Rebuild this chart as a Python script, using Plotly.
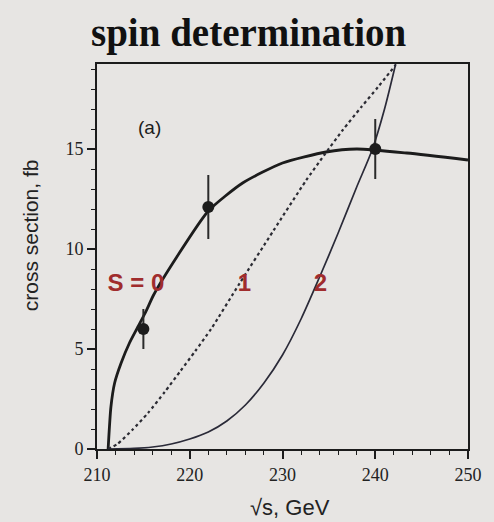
import plotly.graph_objects as go

# Centre-of-mass energy (GeV) and cross sections (fb) for each spin hypothesis
s0_energy = [211.2, 211.5, 211.9, 212.6, 213.5, 214.4, 215.3, 216.1, 218.6, 222.0, 225.7, 230.0, 234.7, 238.0, 243.4, 250.0]
s0_xsec = [0.0, 2.1, 3.3, 4.3, 5.3, 6.1, 6.9, 7.7, 9.6, 11.9, 13.3, 14.3, 14.85, 15.0, 14.8, 14.45]

s1_energy = [211.2, 212.2, 213.8, 215.5, 217.3, 219.0, 220.6, 222.3, 225.4, 229.0, 232.5, 234.5, 236.5, 238.5, 240.3, 242.2]
s1_xsec = [0.0, 0.25, 0.95, 1.8, 2.85, 3.9, 4.9, 6.0, 8.3, 10.9, 13.4, 14.7, 15.95, 17.1, 18.1, 19.2]

s2_energy = [211.2, 214.0, 216.0, 218.0, 220.0, 222.0, 224.0, 226.0, 228.0, 230.0, 232.0, 234.0, 236.0, 238.0, 239.7, 241.0, 242.2]
s2_xsec = [0.0, 0.03, 0.1, 0.25, 0.5, 0.85, 1.4, 2.2, 3.3, 4.7, 6.5, 8.6, 10.8, 13.1, 15.0, 17.0, 19.25]

# Simulated measurements with errors
meas_energy = [215, 222, 240]
meas_xsec = [6.0, 12.1, 15.0]
meas_err = [1.0, 1.6, 1.5]

# Curve labels
label_text = ["S\u00a0=\u00a00", "1", "2"]
label_energy = [214.2, 225.9, 234.1]
label_xsec = [8.2, 8.2, 8.2]

ink = "#1c1c1c"
label_red = "#a02c2d"
bg = "#e7e5e3"
sans = "Liberation Sans, Arial, sans-serif"
serif = "Liberation Serif, Times New Roman, serif"

fig = go.Figure()

fig.add_trace(go.Scatter(x=s0_energy, y=s0_xsec, mode="lines",
                         line=dict(color=ink, width=2.8, shape="spline", smoothing=0.6),
                         showlegend=False, hoverinfo="skip"))
fig.add_trace(go.Scatter(x=s1_energy, y=s1_xsec, mode="lines",
                         line=dict(color="#2b2b33", width=2.2, dash="dot", shape="spline", smoothing=0.6),
                         showlegend=False, hoverinfo="skip"))
fig.add_trace(go.Scatter(x=s2_energy, y=s2_xsec, mode="lines",
                         line=dict(color="#2a2a38", width=1.7, shape="spline", smoothing=0.8),
                         showlegend=False, hoverinfo="skip"))

fig.add_trace(go.Scatter(x=meas_energy, y=meas_xsec, mode="markers",
                         marker=dict(color=ink, size=12),
                         error_y=dict(type="data", array=meas_err, color="#2a2a2a", thickness=2, width=0),
                         showlegend=False))

fig.add_trace(go.Scatter(x=label_energy, y=label_xsec, mode="text", text=label_text,
                         textfont=dict(family=sans, size=24, color=label_red, weight="bold"),
                         textposition="middle center", showlegend=False, hoverinfo="skip"))

fig.add_annotation(x=215.7, y=16.1, xref="x", yref="y", text="(a)", showarrow=False,
                   font=dict(family=sans, size=19, color=ink))

# Title and axis titles placed in paper coordinates
fig.add_annotation(x=0.41, y=1.08, xref="paper", yref="paper", xanchor="center", yanchor="middle",
                   text="<b>spin determination</b>", showarrow=False,
                   font=dict(family=serif, size=39, color="#111111"))
fig.add_annotation(x=-0.177, y=0.556, xref="paper", yref="paper", xanchor="center", yanchor="middle",
                   textangle=-90, text="cross section, fb", showarrow=False,
                   font=dict(family=sans, size=21, color="#222222"))
fig.add_annotation(x=0.519, y=-0.153, xref="paper", yref="paper", xanchor="center", yanchor="middle",
                   text="√s, GeV", showarrow=False,
                   font=dict(family=sans, size=22, color="#222222"))

axis_common = dict(showline=True, linecolor=ink, linewidth=2, mirror=True,
                   showgrid=False, zeroline=False, ticks="outside", tickcolor=ink,
                   tickwidth=1.5, ticklen=8,
                   tickfont=dict(family=serif, size=18, color="#222222"))

fig.update_xaxes(range=[210, 250], dtick=10, tick0=210,
                 minor=dict(dtick=2, ticks="outside", ticklen=4, tickcolor=ink, tickwidth=1),
                 **axis_common)
fig.update_yaxes(range=[0, 19.25], dtick=5, tick0=0,
                 minor=dict(dtick=1, ticks="outside", ticklen=4, tickcolor=ink, tickwidth=1),
                 **axis_common)

fig.update_layout(width=494, height=522, margin=dict(l=97, r=19, t=64, b=73),
                  paper_bgcolor=bg, plot_bgcolor=bg)

fig.write_html("out.html")
